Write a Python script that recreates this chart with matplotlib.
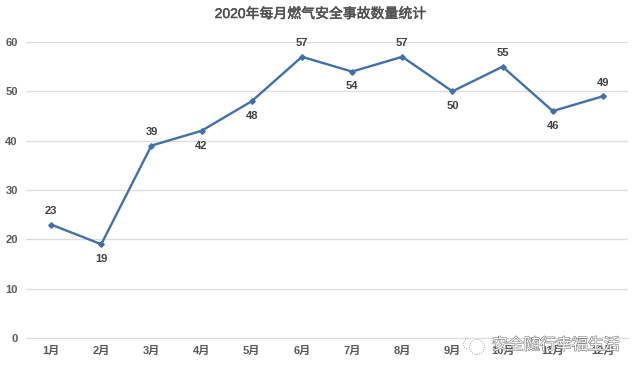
import matplotlib
matplotlib.use('Agg')
import matplotlib.pyplot as plt
import matplotlib.patheffects as pe
from matplotlib.patches import Circle, Arc
from matplotlib.transforms import IdentityTransform

plt.rcParams['font.family'] = ['Liberation Sans', 'Noto Sans CJK SC', 'DejaVu Sans']

# data
months = ['1月','2月','3月','4月','5月','6月','7月','8月','9月','10月','11月','12月']
counts = [23,19,39,42,48,57,54,57,50,55,46,49]
yticks = [0,10,20,30,40,50,60]
# which side the label sits on
above = [True,False,True,False,False,True,False,True,False,True,False,True]

fig = plt.figure(figsize=(6.4,3.73),dpi=100)
ax = fig.add_axes([26/640,1-338/373,(628-26)/640,(338-42)/373])

x = list(range(12))
ax.plot(x,counts,color='#4270ab',lw=1.7,marker='D',ms=2.8)
for i in x:
    if above[i]:
        ax.annotate(str(counts[i]),(i,counts[i]),xytext=(0,6),textcoords='offset points',ha='center',va='bottom',fontsize=8,fontweight='bold',color='#404040')
    else:
        ax.annotate(str(counts[i]),(i,counts[i]),xytext=(0,-7),textcoords='offset points',ha='center',va='top',fontsize=8,fontweight='bold',color='#404040')

ax.set_xlim(-0.5,11.5)
ax.set_ylim(0,60)
ax.set_xticks(x)
ax.set_xticklabels(months,fontsize=8,fontweight='bold',color='#595959')
ax.set_yticks(yticks)
ax.set_yticklabels([str(v) for v in yticks],fontsize=8,fontweight='bold',color='#595959')
ax.tick_params(axis='x',length=0,pad=6)
ax.tick_params(axis='y',length=0,pad=6)
ax.grid(axis='y',color='#dedede',lw=1.0)
ax.set_axisbelow(True)
for s in ['top','right','left']:
    ax.spines[s].set_visible(False)
ax.spines['bottom'].set_color('#dedede')

title = fig.text(320.5/640,1-14/373,'2020年每月燃气安全事故数量统计',ha='center',va='center',fontsize=10,fontweight='medium',color='#505050')
title.set_path_effects([pe.withStroke(linewidth=0.35,foreground='#505050')])

# watermark: pale logo rings and outlined white text over the axis labels
px = IdentityTransform()
fig.add_artist(Circle((477,373-347),7.5,transform=px,fill=False,ec='#8a8a8a',lw=0.6,ls=':'))
fig.add_artist(Arc((469,373-344),11,11,theta1=100,theta2=260,transform=px,ec='#8a8a8a',lw=0.6,ls=':'))
wm = fig.text(492/640,1-345/373,'安全随行幸福生活',ha='left',va='center',fontsize=11.5,color='white')
wm.set_path_effects([pe.withStroke(linewidth=0.8,foreground='#777777')])

fig.savefig('out.png',dpi=100)
